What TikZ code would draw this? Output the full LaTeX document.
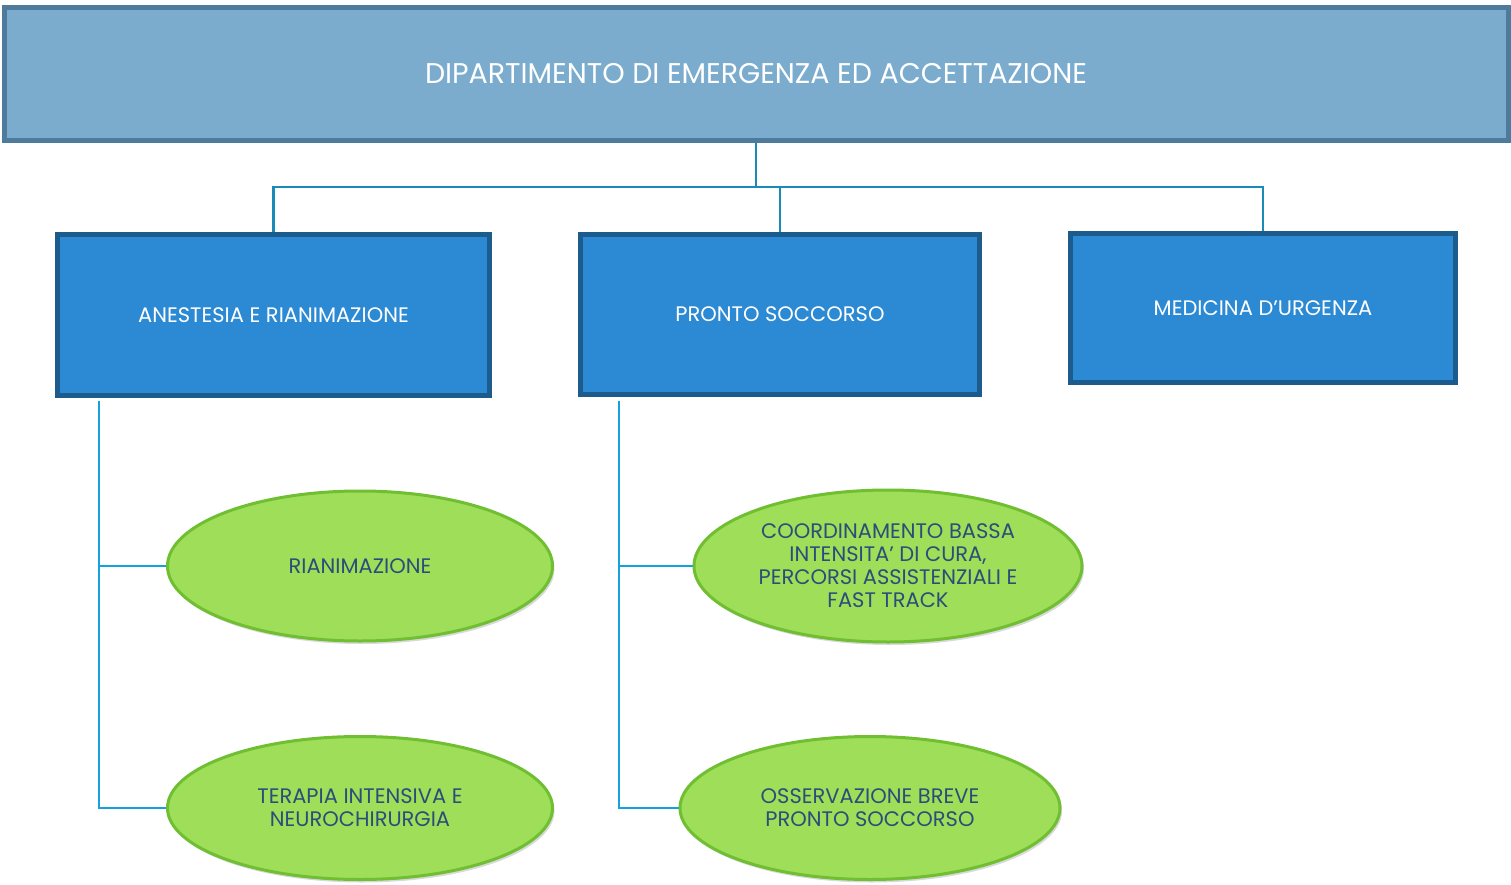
\documentclass[tikz,border=0pt]{standalone}
\usepackage{fontspec}
\setmainfont{Poppins}
\usepackage{tikz}
\usetikzlibrary{shapes.geometric,shadows}

\definecolor{deafill}{RGB}{123,172,206}
\definecolor{deaedge}{RGB}{78,122,156}
\definecolor{ufill}{RGB}{43,138,211}
\definecolor{uedge}{RGB}{28,92,140}
\definecolor{sfill}{RGB}{158,222,88}
\definecolor{sedge}{RGB}{112,190,50}
\definecolor{stext}{RGB}{42,78,122}
\definecolor{topline}{RGB}{26,139,184}
\definecolor{legline}{RGB}{20,162,220}

\tikzset{
  deptbox/.style={rectangle, fill=deafill, draw=deaedge, line width=5pt,
    text=white, font=\fontsize{28.5}{32}\selectfont, align=center,
    drop shadow={opacity=0.25, shadow xshift=1pt, shadow yshift=-1pt}},
  unitbox/.style={rectangle, fill=ufill, draw=uedge, line width=5pt,
    text=white, font=\fontsize{21}{25}\selectfont, align=center,
    drop shadow={opacity=0.3, shadow xshift=1pt, shadow yshift=-1pt}},
  sector/.style={ellipse, fill=sfill, draw=sedge, line width=3pt, inner sep=0pt,
    text=stext, font=\fontsize{21}{23}\selectfont, align=center,
    drop shadow={opacity=0.3, shadow xshift=2pt, shadow yshift=-3pt}},
  link/.style={draw=topline, line width=2.5pt},
  leg/.style={draw=legline, line width=2.5pt}
}

\begin{document}
\begin{tikzpicture}[x=1pt, y=-1pt]
  \useasboundingbox (0,0) rectangle (1511,885);

  % dipartimento
  \node[deptbox, minimum width=1504pt, minimum height=133pt] (dea) at (756,74)
    {DIPARTIMENTO DI EMERGENZA ED ACCETTAZIONE};

  % unita operative
  \node[unitbox, minimum width=432pt, minimum height=161pt] (ane) at (273.5,315)
    {ANESTESIA E RIANIMAZIONE};
  \node[unitbox, minimum width=399pt, minimum height=160pt] (ps) at (780,314.5)
    {PRONTO SOCCORSO};
  \node[unitbox, minimum width=385pt, minimum height=149pt] (mu) at (1263,308)
    {MEDICINA D'URGENZA};

  % settori
  \node[sector, minimum width=385pt, minimum height=150pt] (rian) at (360,566)
    {RIANIMAZIONE};
  \node[sector, minimum width=385pt, minimum height=143pt] (terap) at (360,808)
    {TERAPIA INTENSIVA E\\NEUROCHIRURGIA};
  \node[sector, minimum width=388pt, minimum height=152pt] (coord) at (888,566)
    {COORDINAMENTO BASSA\\INTENSITA' DI CURA,\\PERCORSI ASSISTENZIALI E\\FAST TRACK};
  \node[sector, minimum width=380pt, minimum height=143pt] (oss) at (870,808)
    {OSSERVAZIONE BREVE\\PRONTO SOCCORSO};

  % collegamenti
  \coordinate (bus) at (756,187);
  \draw[link] (dea.south) -- (bus);
  \draw[link] (ane.north) |- (bus) -| (mu.north);
  \draw[link] (ps.north) -- (ps.north |- bus);

  \coordinate (aneleg) at (99,401);
  \coordinate (psleg) at (619,401);
  \draw[leg] (aneleg) |- (terap.west);
  \draw[leg] (aneleg |- rian.west) -- (rian.west);
  \draw[leg] (psleg) |- (oss.west);
  \draw[leg] (psleg |- coord.west) -- (coord.west);
\end{tikzpicture}
\end{document}
